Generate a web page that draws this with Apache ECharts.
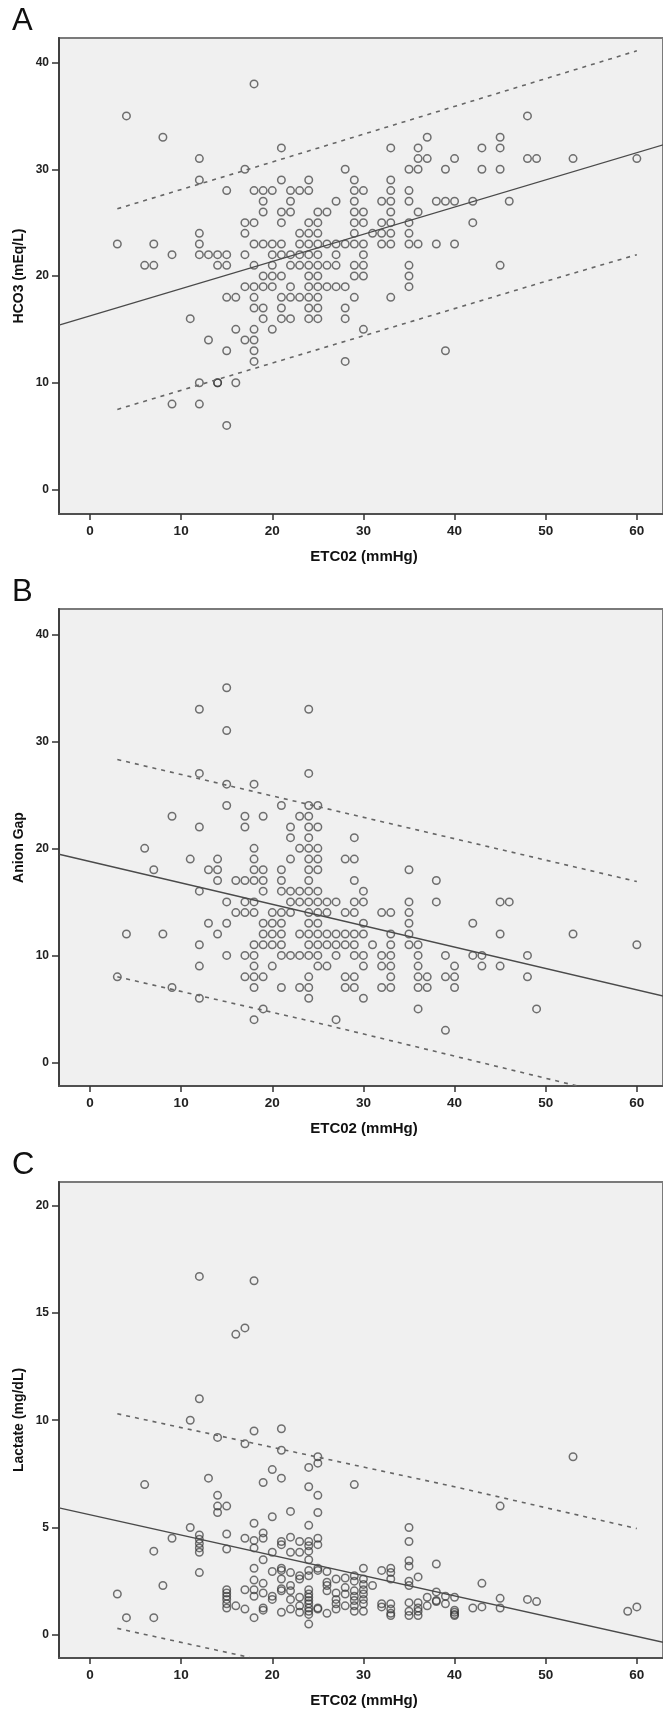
<!DOCTYPE html>
<html><head><meta charset="utf-8">
<script src="https://cdn.jsdelivr.net/npm/echarts@6/dist/echarts.min.js"></script>
<style>html,body{margin:0;padding:0;background:#fff}#c{width:663px;height:1714px}</style>
</head><body><div id="c"></div>
<script>
// ---- tick labels ----
const xTicks = [0, 10, 20, 30, 40, 50, 60];
const yTicksA = [0, 10, 20, 30, 40];
const yTicksB = [0, 10, 20, 30, 40];
const yTicksC = [0, 5, 10, 15, 20];

// ---- titles ----
const panelLetters = ['A', 'B', 'C'];
const xTitle = 'ETC02 (mmHg)';
const yTitles = ['HCO3 (mEq/L)', 'Anion Gap', 'Lactate (mg/dL)'];

// ---- Panel A: ETCO2 vs HCO3 ----
const hco3Points = [
[18,38],[4,35],[48,35],[8,33],[37,33],[45,33],
[21,32],[33,32],[36,32],[43,32],[45,32],
[12,31],[36,31],[37,31],[40,31],[48,31],[49,31],[53,31],[60,31],
[17,30],[28,30],[35,30],[36,30],[39,30],[43,30],[45,30],
[12,29],[21,29],[24,29],[29,29],[33,29],
[15,28],[18,28],[19,28],[20,28],[22,28],[23,28],[24,28],[29,28],[30,28],[33,28],[35,28],
[19,27],[22,27],[27,27],[29,27],[32,27],[33,27],[35,27],[38,27],[39,27],[40,27],[42,27],[46,27],
[19,26],[21,26],[22,26],[25,26],[26,26],[29,26],[30,26],[33,26],[36,26],
[17,25],[18,25],[21,25],[24,25],[25,25],[29,25],[30,25],[32,25],[33,25],[35,25],[42,25],
[12,24],[17,24],[23,24],[24,24],[25,24],[29,24],[31,24],[32,24],[33,24],[35,24],
[3,23],[7,23],[12,23],[18,23],[19,23],[20,23],[21,23],[23,23],[24,23],[25,23],[26,23],[27,23],[28,23],[29,23],[30,23],[32,23],[33,23],[35,23],[36,23],[38,23],[40,23],
[9,22],[12,22],[13,22],[14,22],[15,22],[17,22],[20,22],[21,22],[22,22],[23,22],[24,22],[25,22],[27,22],[30,22],
[6,21],[7,21],[14,21],[15,21],[18,21],[20,21],[22,21],[23,21],[24,21],[25,21],[26,21],[27,21],[29,21],[30,21],[35,21],[45,21],
[19,20],[20,20],[21,20],[24,20],[25,20],[29,20],[30,20],[35,20],
[17,19],[18,19],[19,19],[20,19],[22,19],[24,19],[25,19],[26,19],[27,19],[28,19],[35,19],
[15,18],[16,18],[18,18],[21,18],[22,18],[23,18],[24,18],[25,18],[29,18],[33,18],
[18,17],[19,17],[21,17],[24,17],[25,17],[28,17],
[11,16],[19,16],[21,16],[22,16],[24,16],[25,16],[28,16],
[16,15],[18,15],[20,15],[30,15],
[13,14],[17,14],[18,14],
[15,13],[18,13],[39,13],
[18,12],[28,12],
[12,10],[14,10],[14,10],[16,10],
[9,8],[12,8],[15,6]
];
const hco3Fit = [[-3.4,15.4],[62.9,32.3]];
const hco3Upper = [[3,26.3],[17,29.9],[60,41.1]];
const hco3Lower = [[3,7.5],[50,19.5],[60,22.0]];

// ---- Panel B: ETCO2 vs Anion Gap ----
const anionPoints = [
[15,35],[12,33],[24,33],[15,31],[12,27],[24,27],[15,26],[18,26],
[15,24],[21,24],[24,24],[25,24],
[9,23],[17,23],[19,23],[23,23],[24,23],
[12,22],[17,22],[22,22],[24,22],[25,22],
[22,21],[24,21],[29,21],
[6,20],[18,20],[23,20],[24,20],[25,20],
[11,19],[14,19],[18,19],[22,19],[24,19],[25,19],[28,19],[29,19],
[7,18],[13,18],[14,18],[18,18],[19,18],[21,18],[24,18],[25,18],[35,18],
[14,17],[16,17],[17,17],[18,17],[19,17],[21,17],[24,17],[29,17],[38,17],
[12,16],[19,16],[21,16],[22,16],[23,16],[24,16],[25,16],[30,16],
[15,15],[17,15],[18,15],[22,15],[23,15],[24,15],[25,15],[26,15],[27,15],[29,15],[30,15],[35,15],[38,15],[45,15],[46,15],
[16,14],[17,14],[18,14],[20,14],[21,14],[22,14],[24,14],[25,14],[26,14],[28,14],[29,14],[32,14],[33,14],[35,14],
[13,13],[15,13],[19,13],[20,13],[21,13],[24,13],[25,13],[30,13],[35,13],[42,13],
[4,12],[8,12],[14,12],[19,12],[20,12],[21,12],[23,12],[24,12],[25,12],[26,12],[27,12],[28,12],[29,12],[30,12],[33,12],[35,12],[45,12],[53,12],
[12,11],[18,11],[19,11],[20,11],[21,11],[24,11],[25,11],[26,11],[27,11],[28,11],[29,11],[31,11],[33,11],[35,11],[36,11],[60,11],
[15,10],[17,10],[18,10],[21,10],[22,10],[23,10],[24,10],[25,10],[27,10],[29,10],[30,10],[32,10],[33,10],[36,10],[39,10],[42,10],[43,10],[48,10],
[12,9],[18,9],[20,9],[25,9],[26,9],[30,9],[32,9],[33,9],[36,9],[40,9],[43,9],[45,9],
[3,8],[17,8],[18,8],[19,8],[24,8],[28,8],[29,8],[33,8],[36,8],[37,8],[39,8],[40,8],[48,8],
[9,7],[18,7],[21,7],[23,7],[24,7],[28,7],[29,7],[32,7],[33,7],[36,7],[37,7],[40,7],
[12,6],[24,6],[30,6],[19,5],[36,5],[49,5],[18,4],[27,4],[39,3]
];
const anionFit = [[-3.4,19.45],[62.9,6.2]];
const anionUpper = [[3,28.3],[44,20.1],[60,16.9]];
const anionLower = [[3,8.0],[24,3.9],[53.5,-2.2]];

// ---- Panel C: ETCO2 vs Lactate ----
const lactatePoints = [
[12,16.7],[18,16.5],[17,14.3],[16,14.0],
[12,11.0],[11,10.0],[18,9.5],[21,9.6],[14,9.2],[17,8.9],[21,8.6],[25,8.3],[25,8.0],[53,8.3],[24,7.8],[20,7.7],[13,7.3],[21,7.3],[19,7.1],[29,7.0],[6,7.0],[24,6.9],[14,6.5],[25,6.5],[14,6.0],[15,6.0],[14,5.7],[25,5.7],[22,5.75],[20,5.5],[18,5.2],[11,5.0],[24,5.1],[35,5.0],[45,6.0],
[9,4.5],[12,4.65],[12,4.45],[12,4.25],[12,4.05],[12,3.85],[15,4.7],[17,4.5],[18,4.4],[19,4.75],[19,4.5],[21,4.35],[21,4.2],[22,4.55],[23,4.35],[24,4.35],[24,4.15],[24,3.9],[25,4.5],[25,4.2],[35,4.35],
[7,3.9],[15,4.0],[18,4.05],[20,3.85],[22,3.85],[23,3.85],[24,3.5],[19,3.5],[35,3.45],[35,3.2],[38,3.3],
[12,2.9],[18,3.1],[21,3.1],[21,3.0],[25,3.1],[25,3.0],[22,2.9],[20,2.95],[26,2.95],[23,2.75],[23,2.6],[24,3.0],[24,2.75],[30,3.1],[32,3.0],[33,3.1],[33,2.9],[33,2.6],[36,2.7],
[8,2.3],[18,2.55],[18,2.1],[19,2.4],[19,1.95],[17,2.1],
[15,2.1],[15,1.95],[15,1.8],[15,1.65],[15,1.45],[15,1.25],
[16,1.35],[17,1.2],[18,1.8],[18,0.8],[19,1.25],[19,1.15],[20,1.8],[20,1.65],
[21,2.6],[21,2.15],[21,2.05],[21,1.05],
[22,2.3],[22,2.05],[22,1.65],[22,1.2],
[23,1.75],[23,1.35],[23,1.05],
[24,2.1],[24,1.9],[24,1.75],[24,1.6],[24,1.45],[24,1.25],[24,1.1],[24,0.95],[24,0.5],
[25,1.25],[25,1.2],
[26,2.45],[26,2.3],[26,2.05],[26,1.0],
[27,2.6],[27,1.95],[27,1.65],[27,1.45],[27,1.2],
[28,2.65],[28,2.2],[28,1.9],[28,1.35],
[29,2.75],[29,2.5],[29,2.05],[29,1.8],[29,1.6],[29,1.35],[29,1.1],
[30,2.6],[30,2.35],[30,2.1],[30,1.9],[30,1.65],[30,1.45],[30,1.1],
[31,2.3],[32,1.45],[32,1.3],
[33,1.45],[33,1.2],[33,1.0],[33,0.9],
[35,2.5],[35,2.3],[35,1.5],[35,1.1],[35,0.9],
[36,1.5],[36,1.25],[36,1.1],[36,0.9],
[37,1.75],[37,1.35],[38,2.0],[38,1.6],[38,1.55],[39,1.8],[39,1.45],
[40,1.75],[40,1.15],[40,1.05],[40,0.95],[40,0.9],
[42,1.25],[43,2.4],[43,1.3],[45,1.7],[45,1.25],[48,1.65],[49,1.55],[59,1.1],[60,1.3],
[3,1.9],[4,0.8],[7,0.8]
];
const lactateFit = [[-3.4,5.92],[62.9,-0.35]];
const lactateUpper = [[3,10.3],[40,6.9],[60,4.95]];
const lactateLower = [[3,0.3],[17.5,-1.05]];

// ---- layout ----
const panels = [
  {top:38,  height:476, ymin:-2.3, ymax:42.3,  yTicks:yTicksA, pts:hco3Points,    fit:hco3Fit,    up:hco3Upper,    lo:hco3Lower},
  {top:609, height:477, ymin:-2.2, ymax:42.36, yTicks:yTicksB, pts:anionPoints,   fit:anionFit,   up:anionUpper,   lo:anionLower},
  {top:1182,height:476, ymin:-1.08,ymax:21.1,  yTicks:yTicksC, pts:lactatePoints, fit:lactateFit, up:lactateUpper, lo:lactateLower}
];
const GL = 59, XMIN = -3.4, XMAX = 62.87;
const narrow = '"Liberation Sans Narrow", "Liberation Sans", Arial, sans-serif';
const sans = '"Liberation Sans", Arial, sans-serif';

const grid = [], xAxis = [], yAxis = [], series = [], graphic = [];
panels.forEach((p, i) => {
  grid.push({left:GL, right:-3, top:p.top, height:p.height, show:true,
    backgroundColor:'#f0f0f0', borderColor:'#7a7a7a', borderWidth:2});
  xAxis.push({gridIndex:i, type:'value', min:XMIN, max:XMAX,
    axisLine:{show:true, onZero:false, lineStyle:{color:'#505050', width:2}},
    axisTick:{show:true, customValues:xTicks, length:6, inside:false, lineStyle:{color:'#333', width:1.5}},
    axisLabel:{customValues:xTicks, margin:10, fontSize:13.5, fontWeight:'bold', fontFamily:narrow, color:'#222'},
    splitLine:{show:false}});
  yAxis.push({gridIndex:i, type:'value', min:p.ymin, max:p.ymax,
    axisLine:{show:true, onZero:false, lineStyle:{color:'#404040', width:2}},
    axisTick:{show:true, customValues:p.yTicks, length:7, inside:false, lineStyle:{color:'#333', width:1.5}},
    axisLabel:{customValues:p.yTicks, margin:10, fontSize:12, fontWeight:'bold', fontFamily:narrow, color:'#222'},
    splitLine:{show:false}});
  series.push({type:'scatter', xAxisIndex:i, yAxisIndex:i, data:p.pts, symbol:'circle', symbolSize:7.5,
    itemStyle:{color:'rgba(0,0,0,0)', borderColor:'rgba(50,50,50,0.85)', borderWidth:1.5},
    emphasis:{disabled:true}, silent:true, z:3});
  series.push({type:'line', xAxisIndex:i, yAxisIndex:i, data:p.fit, symbol:'none', clip:true,
    lineStyle:{color:'#4a4a4a', width:1.3}, silent:true, z:4});
  [p.up, p.lo].forEach(d => series.push({type:'line', xAxisIndex:i, yAxisIndex:i, data:d, symbol:'none', clip:true,
    lineStyle:{color:'#666', width:1.6, type:[4,5]}, silent:true, z:4}));
  graphic.push({type:'text', left:12, top:p.top - 32,
    style:{text:panelLetters[i], font:'31px ' + sans, fill:'#111'}});
  graphic.push({type:'text', x:364, y:p.top + p.height + 43,
    style:{text:xTitle, font:'bold 15px ' + sans, fill:'#111', align:'center', verticalAlign:'middle', textAlign:'center', textVerticalAlign:'middle'}});
  graphic.push({type:'text', x:19, y:p.top + p.height/2, rotation:Math.PI/2,
    style:{text:yTitles[i], font:'bold 14px ' + sans, fill:'#111', align:'center', verticalAlign:'middle', textAlign:'center', textVerticalAlign:'middle'}});
});

const chart = echarts.init(document.getElementById('c'), null, {renderer:'canvas'});
chart.setOption({animation:false, backgroundColor:'#ffffff', grid, xAxis, yAxis, series, graphic});
</script>
</body></html>
